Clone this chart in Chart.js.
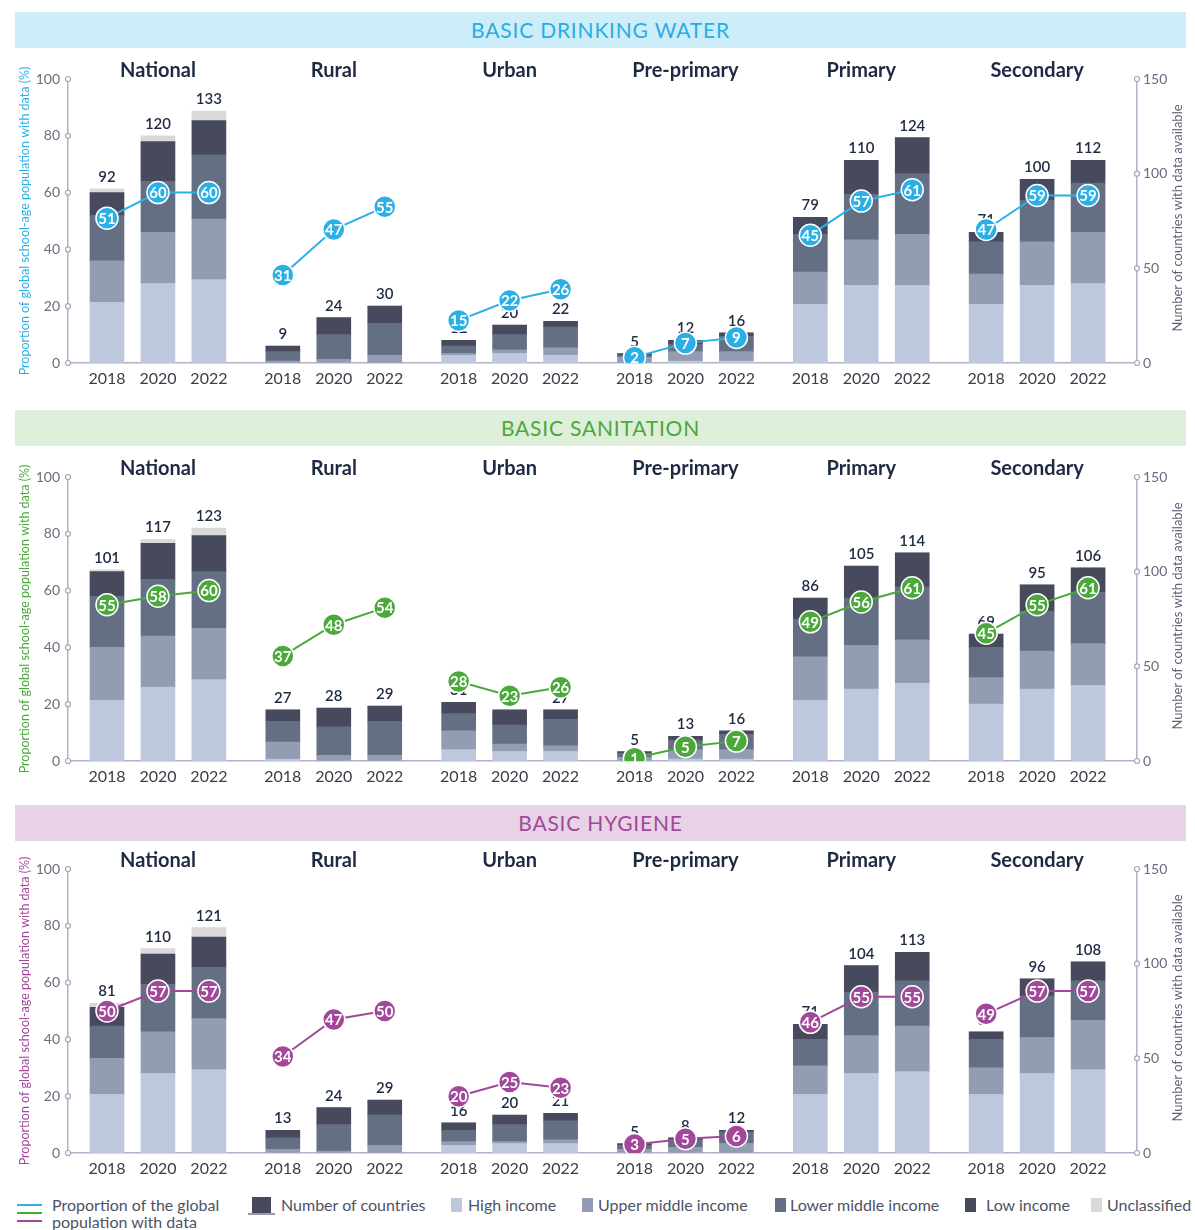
<!DOCTYPE html>
<html>
<head>
<meta charset="utf-8">
<script src="https://cdn.jsdelivr.net/npm/chart.js@4.4.1/dist/chart.umd.min.js"></script>
<style>
  body { margin: 0; background: #fff; font-family: Lato, sans-serif; }
  .banner { position: absolute; left: 15px; width: 1171px; height: 36px; line-height: 36px;
            text-align: center; font-size: 21px; letter-spacing: 0.8px; }
  .box { position: absolute; left: 0; width: 1195px; height: 345px; }
  .lg { position: absolute; font-size: 16px; color: #4d5366; line-height: 17px; white-space: nowrap; }
  .sw { position: absolute; width: 11px; height: 14px; }
  .ln { position: absolute; left: 17px; width: 25px; height: 2px; }
</style>
</head>
<body>
<div class="banner" style="top:12px;background:#cdeef9;color:#2aace3">BASIC DRINKING WATER</div>
<div class="box" style="top:50px"><canvas id="c0"></canvas></div>
<div class="banner" style="top:410px;background:#ddefd8;color:#4ba83b">BASIC SANITATION</div>
<div class="box" style="top:448px"><canvas id="c1"></canvas></div>
<div class="banner" style="top:805px;background:#e8d3e6;color:#a2489a">BASIC HYGIENE</div>
<div class="box" style="top:840px"><canvas id="c2"></canvas></div>

<div class="ln" style="top:1204px;background:#2bb0e6"></div>
<div class="ln" style="top:1212px;background:#4ba83b"></div>
<div class="ln" style="top:1220px;background:#a2489a"></div>
<div class="lg" style="left:52px;top:1196px">Proportion of the global<br>population with data</div>
<div class="sw" style="left:252px;top:1197px;width:19px;height:17px;background:#474a5c"></div>
<div class="sw" style="left:248px;top:1213px;width:27px;height:2px;background:#9a9aa8"></div>
<div class="lg" style="left:281px;top:1196px">Number of countries</div>
<div class="sw" style="left:451px;top:1198px;background:#bdc8dc"></div>
<div class="lg" style="left:468px;top:1196px">High income</div>
<div class="sw" style="left:582px;top:1198px;background:#929db3"></div>
<div class="lg" style="left:598px;top:1196px">Upper middle income</div>
<div class="sw" style="left:775px;top:1198px;background:#656f84"></div>
<div class="lg" style="left:790px;top:1196px">Lower middle income</div>
<div class="sw" style="left:965px;top:1198px;background:#474a5c"></div>
<div class="lg" style="left:986px;top:1196px">Low income</div>
<div class="sw" style="left:1091px;top:1198px;background:#d9d9d9"></div>
<div class="lg" style="left:1107px;top:1196px">Unclassified</div>

<script>
const groups = ['National', 'Rural', 'Urban', 'Pre-primary', 'Primary', 'Secondary'];
const years = ['2018', '2020', '2022'];

// basic drinking water
const waterPct   = [51, 60, 60,  31, 47, 55,  15, 22, 26,  2, 7, 9,   45, 57, 61,  47, 59, 59];
const waterTotal = [92, 120, 133, 9, 24, 30,  12, 20, 22,  5, 12, 16, 79, 110, 124, 71, 100, 112];
const waterHigh  = [32, 42, 44,  0, 0, 0,    4, 5, 4,    0, 1, 1,   31, 41, 41,  31, 41, 42];
const waterUpper = [22, 27, 32,  1, 2, 4,    1, 2, 4,    3, 5, 5,   17, 24, 27,  16, 23, 27];
const waterLower = [24, 27, 34,  5, 13, 17,  4, 8, 11,   1, 4, 8,   20, 24, 32,  17, 22, 26];
const waterLow   = [12, 21, 18,  3, 9, 9,    3, 5, 3,    1, 2, 2,   9, 18, 19,   5, 11, 12];
const waterUncl  = [2, 3, 5,     0, 0, 0,    0, 0, 0,    0, 0, 0,   0, 0, 0,     0, 0, 0];

// basic sanitation
const sanPct   = [55, 58, 60,  37, 48, 54,  28, 23, 26,  1, 5, 7,   49, 56, 61,  45, 55, 61];
const sanTotal = [101, 117, 123, 27, 28, 29, 31, 27, 27, 5, 13, 16, 86, 105, 114, 69, 95, 106];
const sanHigh  = [32, 39, 43,  1, 0, 0,    6, 5, 5,    0, 1, 1,   32, 38, 41,  30, 38, 40];
const sanUpper = [28, 27, 27,  9, 3, 3,    10, 4, 3,   2, 5, 5,   23, 23, 23,  14, 20, 22];
const sanLower = [27, 30, 30,  11, 15, 18, 9, 10, 14,  2, 5, 8,   20, 25, 28,  16, 21, 27];
const sanLow   = [13, 19, 19,  6, 10, 8,   6, 8, 5,    1, 2, 2,   11, 17, 18,  7, 14, 13];
const sanUncl  = [1, 2, 4,     0, 0, 0,    0, 0, 0,    0, 0, 0,   0, 0, 0,     0, 0, 0];

// basic hygiene
const hygPct   = [50, 57, 57,  34, 47, 50,  20, 25, 23,  3, 5, 6,   46, 55, 55,  49, 57, 57];
const hygTotal = [81, 110, 121, 13, 24, 29, 16, 20, 21,  5, 8, 12,  71, 104, 113, 67, 96, 108];
const hygHigh  = [31, 42, 44,  0, 0, 0,    4, 5, 5,    0, 0, 0,   31, 42, 43,  31, 42, 44];
const hygUpper = [19, 22, 27,  2, 1, 4,    2, 1, 2,    2, 3, 5,   15, 20, 24,  14, 19, 26];
const hygLower = [17, 25, 27,  6, 14, 16,  6, 9, 10,   2, 4, 6,   14, 23, 24,  15, 22, 21];
const hygLow   = [10, 16, 16,  4, 9, 8,    4, 5, 4,    1, 1, 1,   8, 14, 15,   4, 9, 10];
const hygUncl  = [2, 3, 5,     0, 0, 0,    0, 0, 0,    0, 0, 0,   0, 0, 0,     0, 0, 0];

const incomeNames  = ['High income', 'Upper middle income', 'Lower middle income', 'Low income', 'Unclassified'];
const incomeColors = ['#bdc8dc', '#929db3', '#656f84', '#474a5c', '#d9d9d9'];

const GAP = 3.45; // group spacing in bar units
const xpos = [];
groups.forEach((g, gi) => years.forEach((y, yi) => xpos.push(gi * GAP + yi)));

const panels = [
  { id: 'c0', color: '#2bb0e6', pct: waterPct, total: waterTotal,
    stacks: [waterHigh, waterUpper, waterLower, waterLow, waterUncl] },
  { id: 'c1', color: '#4ba83b', pct: sanPct, total: sanTotal,
    stacks: [sanHigh, sanUpper, sanLower, sanLow, sanUncl] },
  { id: 'c2', color: '#a2489a', pct: hygPct, total: hygTotal,
    stacks: [hygHigh, hygUpper, hygLower, hygLow, hygUncl] }
];

Chart.defaults.font.family = 'Lato';

// labels, group titles, axis titles, tick dots
const decor = {
  id: 'decor',
  beforeDatasetDraw(chart, args) {
    if (args.meta.type !== 'line') return;
    const p = chart.options.plugins.decor;
    const ctx = chart.ctx, x = chart.scales.x, yR = chart.scales.yR;
    ctx.save();
    ctx.font = '600 15px Lato';
    ctx.fillStyle = '#1f2a44';
    ctx.textAlign = 'center';
    ctx.textBaseline = 'alphabetic';
    p.total.forEach((t, i) => {
      let top = 0;
      p.stacks.forEach(s => top += s[i]);
      ctx.fillText(t, x.getPixelForValue(xpos[i]), yR.getPixelForValue(top) - 7);
    });
    ctx.restore();
  },
  afterDatasetsDraw(chart) {
    const p = chart.options.plugins.decor;
    const ctx = chart.ctx, x = chart.scales.x, yL = chart.scales.yL;
    ctx.save();
    ctx.font = 'bold 15px Lato';
    ctx.fillStyle = '#fff';
    ctx.textAlign = 'center';
    ctx.textBaseline = 'middle';
    p.pct.forEach((v, i) => {
      ctx.fillText(v, x.getPixelForValue(xpos[i]), yL.getPixelForValue(v) + 1);
    });
    ctx.restore();
  },
  afterDraw(chart) {
    const p = chart.options.plugins.decor;
    const ctx = chart.ctx, x = chart.scales.x, yL = chart.scales.yL, yR = chart.scales.yR;
    const area = chart.chartArea;
    ctx.save();
    // group titles
    ctx.font = 'bold 20px Lato';
    ctx.fillStyle = '#1e2a44';
    ctx.textAlign = 'center';
    ctx.textBaseline = 'alphabetic';
    groups.forEach((g, gi) => ctx.fillText(g, x.getPixelForValue(gi * GAP + 1), area.top - 2));
    // tick dots
    ctx.strokeStyle = '#a9a7bd';
    ctx.fillStyle = '#fff';
    ctx.lineWidth = 1.2;
    [[yL, area.left], [yR, area.right]].forEach(([sc, px]) => {
      sc.ticks.forEach(t => {
        ctx.beginPath();
        ctx.arc(px, sc.getPixelForValue(t.value), 2.5, 0, Math.PI * 2);
        ctx.fill();
        ctx.stroke();
      });
    });
    // axis titles
    const midY = (area.top + area.bottom) / 2;
    ctx.font = '12.5px Lato';
    ctx.textBaseline = 'middle';
    ctx.fillStyle = p.color;
    ctx.translate(25, midY);
    ctx.rotate(-Math.PI / 2);
    ctx.fillText('Proportion of global school-age population with data (%)', 0, 0);
    ctx.setTransform(1, 0, 0, 1, 0, 0);
    ctx.fillStyle = '#5d6479';
    ctx.font = '13px Lato';
    ctx.translate(1178, midY - 3);
    ctx.rotate(-Math.PI / 2);
    ctx.fillText('Number of countries with data available', 0, 0);
    ctx.restore();
  }
};

panels.forEach(p => {
  const lineData = [];
  xpos.forEach((xv, i) => {
    lineData.push({ x: xv, y: p.pct[i] });
    if (i % 3 === 2) lineData.push({ x: xv + 0.7, y: null });
  });
  const datasets = p.stacks.map((s, k) => ({
    type: 'bar',
    label: incomeNames[k],
    data: s.map((v, i) => ({ x: xpos[i], y: v })),
    backgroundColor: incomeColors[k],
    yAxisID: 'yR',
    stack: 'c',
    barThickness: 34,
    order: 1
  }));
  datasets.push({
    type: 'line',
    label: 'Proportion of the global population with data',
    data: lineData,
    yAxisID: 'yL',
    borderColor: p.color,
    borderWidth: 2,
    pointRadius: 11,
    pointBackgroundColor: p.color,
    pointBorderColor: '#fff',
    pointBorderWidth: 1.5,
    spanGaps: false,
    order: 0
  });

  new Chart(document.getElementById(p.id), {
    data: { datasets: datasets },
    options: {
      responsive: true,
      maintainAspectRatio: false,
      animation: false,
      layout: { padding: { top: 29, left: 0, right: 0, bottom: 0 } },
      plugins: {
        legend: { display: false },
        tooltip: { enabled: false },
        decor: { color: p.color, pct: p.pct, total: p.total, stacks: p.stacks }
      },
      scales: {
        x: {
          type: 'linear',
          offset: false,
          min: -0.765,
          max: 5 * GAP + 2.96,
          stacked: true,
          afterBuildTicks: sc => { sc.ticks = xpos.map(v => ({ value: v })); },
          afterFit: sc => { sc.height = 32; },
          grid: { display: false, drawTicks: false, offset: false },
          border: { display: true, color: '#b3b1c6', width: 1.5 },
          ticks: {
            autoSkip: false,
            maxRotation: 0,
            padding: 6,
            color: '#3b3d47',
            font: { size: 16 },
            callback: (v, i) => years[i % 3]
          }
        },
        yL: {
          position: 'left',
          min: 0,
          max: 100,
          afterFit: sc => { sc.width = 68; },
          grid: { display: false, drawTicks: false },
          border: { display: true, color: '#b3b1c6', width: 1.5 },
          ticks: { stepSize: 20, padding: 8, color: '#6d6b7d', font: { size: 14 } }
        },
        yR: {
          position: 'right',
          min: 0,
          max: 150,
          stacked: true,
          afterFit: sc => { sc.width = 58; },
          grid: { display: false, drawTicks: false },
          border: { display: true, color: '#b3b1c6', width: 1.5 },
          ticks: { stepSize: 50, padding: 6, color: '#6d6b7d', font: { size: 14 } }
        }
      }
    },
    plugins: [decor]
  });
});
</script>
</body>
</html>
